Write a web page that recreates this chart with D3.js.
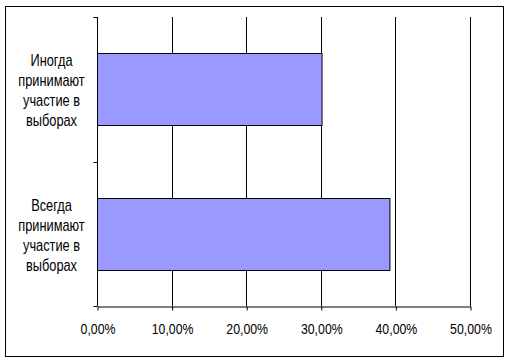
<!DOCTYPE html>
<html>
  <head>
    <meta charset="utf-8">
    <script src="https://d3js.org/d3.v7.min.js"></script>
    <style>
      body { margin: 0; background: #fff; }
      text { font-family: "Liberation Sans", Arial, sans-serif; fill: #000; }
    </style>
  </head>
  <body>
    <div id="chart"></div>
    <script>
      // Data (top to bottom)
      const categories = ["Иногда", "Всегда"];
      const categoryLines = [
        ["Иногда", "принимают", "участие в", "выборах"],
        ["Всегда", "принимают", "участие в", "выборах"]
      ];
      const values = [0.301, 0.392];
      const tickValues = [0, 0.1, 0.2, 0.3, 0.4, 0.5];

      const width = 511, height = 362;
      const plot = { left: 97, right: 470, top: 17, bottom: 306 };

      const svg = d3.select("#chart")
        .append("svg")
        .attr("width", width)
        .attr("height", height);

      // outer frame
      svg.append("rect")
        .attr("x", 5.5).attr("y", 6.5)
        .attr("width", 498).attr("height", 350)
        .attr("fill", "#fff").attr("stroke", "#000");

      const x = d3.scaleLinear().domain([0, 0.5]).range([plot.left, plot.right]);
      const y = d3.scaleBand().domain(categories).range([plot.top, plot.bottom]).padding(0);

      const fmt = d => (d * 100).toFixed(2).replace(".", ",") + "%";

      // vertical gridlines
      svg.append("g")
        .selectAll("line")
        .data(tickValues.slice(1))
        .enter()
        .append("line")
        .attr("x1", d => Math.round(x(d)) + 0.5)
        .attr("x2", d => Math.round(x(d)) + 0.5)
        .attr("y1", plot.top)
        .attr("y2", plot.bottom)
        .attr("stroke", "#000");

      // bars
      const barH = y.bandwidth() * 0.5;
      svg.append("g")
        .selectAll("rect")
        .data(categories)
        .enter()
        .append("rect")
        .attr("x", x(0) + 0.5)
        .attr("y", d => Math.round(y(d) + (y.bandwidth() - barH) / 2) + 0.5)
        .attr("width", (d, i) => x(values[i]) - x(0))
        .attr("height", Math.round(barH))
        .attr("fill", "#9999ff")
        .attr("stroke", "#000");

      // x axis
      const xAxis = svg.append("g")
        .attr("transform", `translate(0.5,${plot.bottom + 0.5})`)
        .call(d3.axisBottom(x).tickValues(tickValues).tickFormat(fmt).tickSize(4).tickSizeOuter(0));
      xAxis.select(".domain").attr("stroke", "#000");
      xAxis.selectAll(".tick line").attr("stroke", "#000");
      xAxis.selectAll(".tick text")
        .attr("y", 0)
        .attr("dy", null)
        .attr("transform", "translate(0,27.5) scale(0.88,1)")
        .style("font-size", "14px")
        .style("font-family", "'Liberation Sans', Arial, sans-serif");

      // y axis: ticks sit on the band edges
      const yAxisG = svg.append("g").attr("transform", `translate(${plot.left + 0.5},0)`);
      yAxisG.append("line")
        .attr("y1", plot.top).attr("y2", plot.bottom)
        .attr("stroke", "#000");
      const bandEdges = categories.map(d => y(d)).concat([plot.bottom]);
      yAxisG.selectAll(".edge")
        .data(bandEdges)
        .enter()
        .append("line")
        .attr("class", "edge")
        .attr("x1", -4).attr("x2", 0)
        .attr("y1", d => Math.round(d) + 0.5)
        .attr("y2", d => Math.round(d) + 0.5)
        .attr("stroke", "#000");

      // category labels
      const labels = svg.append("g")
        .selectAll("g")
        .data(categories)
        .enter()
        .append("g");
      labels.each(function (d, i) {
        const cy = y(d) + y.bandwidth() / 2;
        const lines = categoryLines[i];
        const g = d3.select(this);
        lines.forEach((line, j) => {
          g.append("text")
            .attr("transform", `translate(51.5,${cy + 6.8 + (j - (lines.length - 1) / 2) * 20}) scale(0.8,1)`)
            .attr("text-anchor", "middle")
            .style("font-size", "16px")
            .text(line);
        });
      });
    </script>
  </body>
</html>
